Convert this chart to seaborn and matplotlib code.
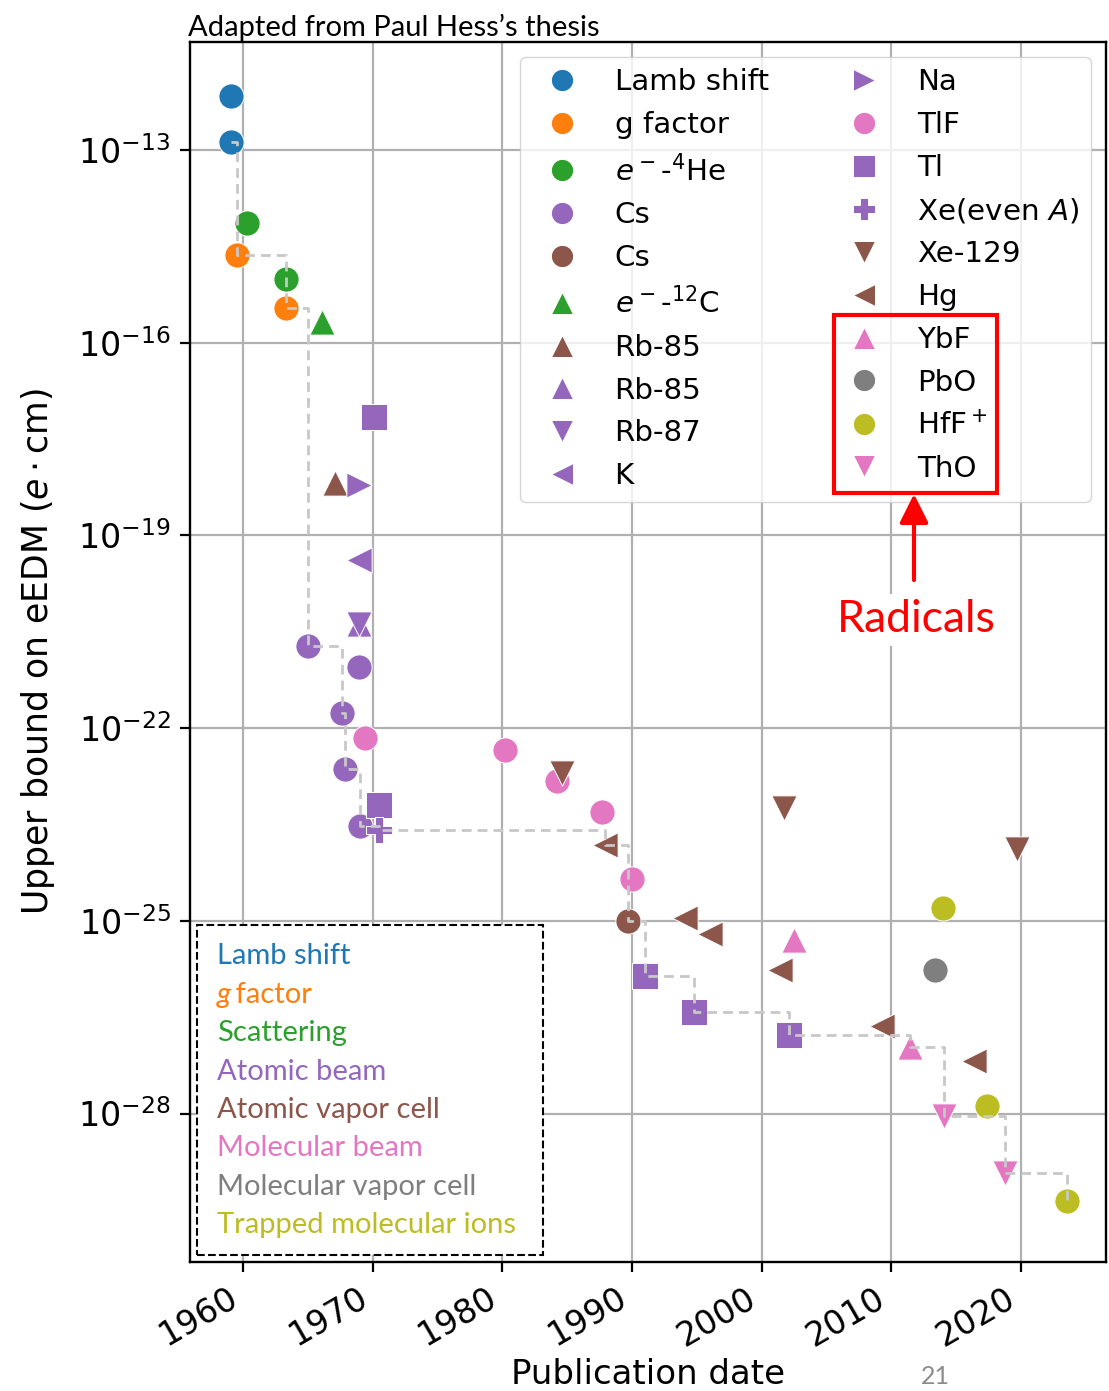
import numpy as np
import matplotlib
matplotlib.use("Agg")
import matplotlib.pyplot as plt
import seaborn as sns
from matplotlib.lines import Line2D
from matplotlib.patches import Rectangle, FancyArrowPatch
from matplotlib import ticker

# ---------------- data (publication year, upper bound on eEDM in e*cm) ----------------
lamb_year = [1959.0, 1959.0]
lamb_edm = [6.9e-13, 1.35e-13]
gfac_year = [1959.5, 1963.3]
gfac_edm = [2.3e-15, 3.5e-16]
he4_year = [1960.3, 1963.3]
he4_edm = [7.4e-15, 9.8e-16]
cs_beam_year = [1965.0, 1967.6, 1967.8, 1968.9, 1969.0]
cs_beam_edm = [1.9e-21, 1.7e-22, 2.3e-23, 9.1e-22, 3.0e-24]
cs_cell_year = [1989.7]
cs_cell_edm = [1.0e-25]
c12_year = [1966.1]
c12_edm = [2.1e-16]
rb85_cell_year = [1967.1]
rb85_cell_edm = [6.6e-19]
rb85_beam_year = [1968.9]
rb85_beam_edm = [4.2e-21]
rb87_year = [1968.9]
rb87_edm = [4.2e-21]
k_year = [1968.9]
k_edm = [4.2e-20]
na_year = [1968.9]
na_edm = [6.0e-19]
tlf_year = [1969.4, 1980.2, 1984.2, 1987.7, 1990.0]
tlf_edm = [7.1e-23, 4.6e-23, 1.5e-23, 4.9e-24, 4.5e-25]
tl_year = [1970.1, 1970.5, 1991.0, 1994.8, 2002.1]
tl_edm = [6.9e-18, 6.3e-24, 1.4e-26, 3.8e-27, 1.7e-27]
xe_even_year = [1970.5]
xe_even_edm = [2.6e-24]
xe129_year = [1984.6, 2001.7, 2019.7]
xe129_edm = [2.0e-23, 5.8e-24, 1.3e-24]
hg_year = [1987.9, 1994.1, 1996.0, 2001.4, 2009.3, 2016.4]
hg_edm = [1.5e-24, 1.1e-25, 6.3e-26, 1.7e-26, 2.3e-27, 6.5e-28]
ybf_year = [2002.5, 2011.5]
ybf_edm = [5.1e-26, 1.1e-27]
pbo_year = [2013.4]
pbo_edm = [1.7e-26]
hff_year = [2014.0, 2017.4, 2023.6]
hff_edm = [1.6e-25, 1.3e-28, 4.4e-30]
tho_year = [2014.1, 2018.8]
tho_edm = [9.1e-29, 1.2e-29]

categories = ["Lamb shift", "g factor", "Scattering", "Atomic beam", "Atomic vapor cell",
              "Molecular beam", "Molecular vapor cell", "Trapped molecular ions"]
category_palette_index = [0, 1, 2, 4, 5, 6, 7, 8]

exp_labels = ["Lamb shift", "g factor", r"$e^-$-$^4$He", "Cs", "Cs", r"$e^-$-$^{12}$C",
              "Rb-85", "Rb-85", "Rb-87", "K",
              "Na", "TlF", "Tl", r"Xe(even $A$)", "Xe-129", "Hg", "YbF", "PbO", r"HfF$^+$", "ThO"]
exp_category = ["Lamb shift", "g factor", "Scattering", "Atomic beam", "Atomic vapor cell", "Scattering",
                "Atomic vapor cell", "Atomic beam", "Atomic beam", "Atomic beam",
                "Atomic beam", "Molecular beam", "Atomic beam", "Atomic beam", "Atomic vapor cell",
                "Atomic vapor cell", "Molecular beam", "Molecular vapor cell", "Trapped molecular ions",
                "Molecular beam"]
exp_marker = ["o", "o", "o", "o", "o", "^", "^", "^", "v", "<",
              ">", "o", "s", "P", "v", "<", "^", "o", "o", "v"]
exp_years = [lamb_year, gfac_year, he4_year, cs_beam_year, cs_cell_year, c12_year,
             rb85_cell_year, rb85_beam_year, rb87_year, k_year,
             na_year, tlf_year, tl_year, xe_even_year, xe129_year, hg_year, ybf_year,
             pbo_year, hff_year, tho_year]
exp_edms = [lamb_edm, gfac_edm, he4_edm, cs_beam_edm, cs_cell_edm, c12_edm,
            rb85_cell_edm, rb85_beam_edm, rb87_edm, k_edm,
            na_edm, tlf_edm, tl_edm, xe_even_edm, xe129_edm, hg_edm, ybf_edm,
            pbo_edm, hff_edm, tho_edm]

# ---------------- figure ----------------
plt.rcParams["font.family"] = ["DejaVu Sans"]
W, H = 1109, 1391
fig = plt.figure(figsize=(W / 100, H / 100), dpi=100)
ax = fig.add_axes([190 / W, 1 - 1262 / H, (1106 - 190) / W, (1262 - 42) / H])
ax.set_yscale("log")

palette = sns.color_palette("tab10")
cat_color = {c: palette[i] for c, i in zip(categories, category_palette_index)}

for yrs, edms, cat, mk in zip(exp_years, exp_edms, exp_category, exp_marker):
    sns.scatterplot(x=yrs, y=edms, ax=ax, color=cat_color[cat], marker=mk, s=330,
                    edgecolor="white", linewidth=0.7, legend=False, zorder=2)

# staircase of best limit
all_years = np.concatenate([np.asarray(v, float) for v in exp_years])
all_edms = np.concatenate([np.asarray(v, float) for v in exp_edms])
order = np.lexsort((all_edms, all_years))
ax.plot(all_years[order], np.minimum.accumulate(all_edms[order]), drawstyle="steps-post",
        ls=(0, (3.5, 2.2)), color="#c8c8c8", lw=2.0, zorder=3)

ax.set_xlim(1955.87, 2026.6)
ax.set_ylim(10 ** -30.31, 10 ** -11.32)
ax.xaxis.set_major_locator(ticker.MultipleLocator(10))
ax.yaxis.set_major_locator(ticker.FixedLocator([10.0 ** e for e in (-13, -16, -19, -22, -25, -28)]))
ax.yaxis.set_minor_locator(ticker.NullLocator())
ax.yaxis.set_major_formatter(ticker.FuncFormatter(
    lambda v, p: r"$\mathdefault{10^{%d}}$" % int(round(np.log10(v)))))
ax.grid(True, color="#b0b0b0", lw=1.6, zorder=0)
ax.set_axisbelow(True)
ax.tick_params(axis="both", labelsize=24, length=7, width=1.6, pad=7, direction="out", colors="black")
for lab in ax.get_xticklabels():
    lab.set_rotation(30)
    lab.set_ha("right")
for sp in ax.spines.values():
    sp.set_color("black")
    sp.set_linewidth(1.7)

ax.set_xlabel("Publication date", fontsize=24.5)
ax.xaxis.set_label_coords(0.5, -0.079)
ax.xaxis.label.set_va("top")
fig.text(38 / W, 1 - 651 / H, r"Upper bound on eEDM ($e\cdot$cm)", rotation=90,
         ha="center", va="center", fontsize=25)

# legend of experiments
handles = [Line2D([], [], ls="", marker=m, color=cat_color[c], markersize=16,
                  markeredgecolor="white", markeredgewidth=0.7)
           for m, c in zip(exp_marker, exp_category)]
ax.legend(handles, exp_labels, ncol=2, loc="upper right", fontsize=21.2, framealpha=0.8,
          labelspacing=0.5, columnspacing=2.25)

# ---------------- annotations ----------------
fig.text(188 / W, 1 - 36 / H, "Adapted from Paul Hess\u2019s thesis", fontsize=21,
         family="Lato", ha="left", va="baseline")

box = Rectangle((197 / W, 1 - 1255 / H), (543 - 197) / W, (1255 - 925) / H,
                transform=fig.transFigure, facecolor="white", edgecolor="black",
                ls="--", lw=1.5, zorder=5)
fig.add_artist(box)
line_y = [956, 995, 1033, 1072, 1110, 1148, 1187, 1225]
fig.canvas.draw()
renderer = fig.canvas.get_renderer()
for cat, yy in zip(categories, line_y):
    col = cat_color[cat]
    if cat == "g factor":
        t = fig.text(217 / W, 1 - yy / H, "g", color=col, family="Lato", style="italic",
                     fontsize=21, ha="left", va="center", zorder=6)
        bb = t.get_window_extent(renderer)
        fig.text((bb.x1 + 1) / W, 1 - yy / H, "\u2009factor", color=col, family="Lato",
                 fontsize=21, ha="left", va="center", zorder=6)
    else:
        fig.text(217 / W, 1 - yy / H, cat, color=col, family="Lato", fontsize=21,
                 ha="left", va="center", zorder=6)

red_box = Rectangle((834 / W, 1 - 493 / H), (997 - 834) / W, (493 - 315) / H,
                    transform=fig.transFigure, fill=False, edgecolor="red", lw=3, zorder=7)
fig.add_artist(red_box)
arrow = FancyArrowPatch((914 / W, 1 - 580 / H), (914 / W, 1 - 494 / H), transform=fig.transFigure,
                        arrowstyle="-|>,head_length=0.7,head_width=0.35", mutation_scale=25,
                        color="red", lw=3, shrinkA=0, shrinkB=0, zorder=7)
fig.add_artist(arrow)
fig.text(916 / W, 1 - 620 / H, "Radicals", color="red", family="Lato", fontsize=32,
         ha="center", va="center", zorder=7,
         bbox=dict(facecolor="white", edgecolor="none", pad=4))
fig.text(935 / W, 1 - 1377 / H, "21", color="#8c8c8c", family="Lato", fontsize=18,
         ha="center", va="center")

fig.savefig("out.png", dpi=100)
